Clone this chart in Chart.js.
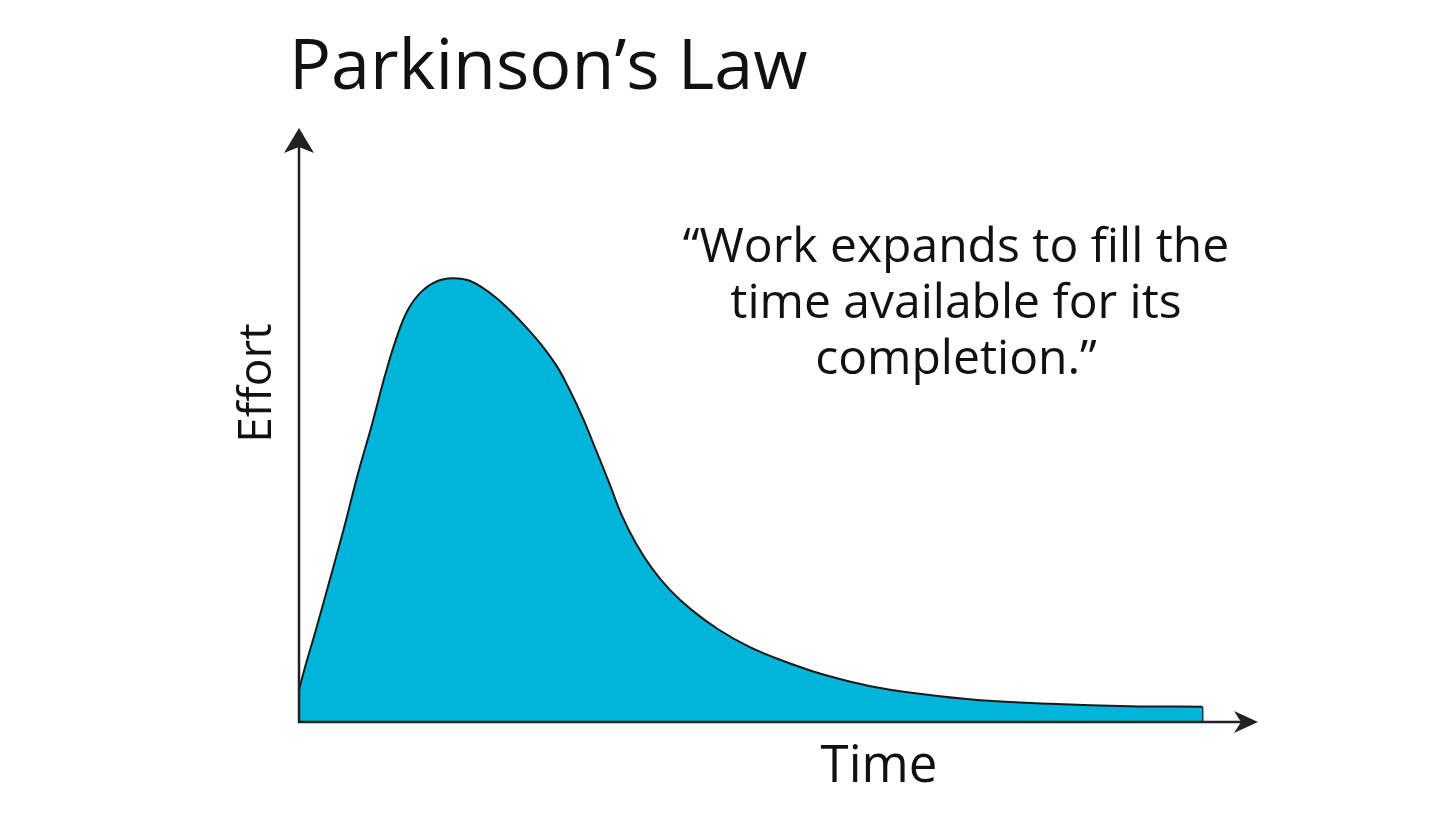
<!DOCTYPE html>
<html>
<head>
<meta charset="utf-8">
<title>Parkinson's Law</title>
<script src="https://cdn.jsdelivr.net/npm/chart.js@4"></script>
<style>
    html, body { margin: 0; padding: 0; background: #ffffff; }
    #wrap { width: 1456px; height: 819px; }
</style>
</head>
<body>
<div id="wrap"><canvas id="parkinsonChart"></canvas></div>
<script>
// Dados (tempo x esforço, unidades arbitrárias 0-100)
const timeValues = [0, 0.7, 1.7, 3.1, 4.7, 6.2, 7.7, 9.1, 10.3, 11.5, 13.0, 14.6, 16.2, 17.8, 19.3,
    20.9, 22.5, 24.1, 25.7, 27.3, 28.6, 30.0, 31.4, 32.8, 34.1, 35.6, 37.3, 39.2, 41.5, 44.3,
    47.5, 51.2, 55.6, 60.4, 65.6, 72.0, 79.4, 87.8, 95.5];
const effortValues = [5.5, 9.7, 15.2, 23.3, 32.7, 42.1, 50.6, 59.1, 65.4, 70.2, 73.4, 75.1, 75.6, 75.3, 74.1,
    72.2, 69.8, 67.1, 64.1, 60.5, 56.6, 51.8, 46.3, 40.7, 35.3, 30.5, 26.2, 22.5, 19.1, 15.8,
    12.9, 10.4, 8.0, 6.1, 4.8, 3.7, 3.1, 2.7, 2.6];

const chartTitle = 'Parkinson’s Law';
const quoteLines = ['“Work expands to fill the', 'time available for its', 'completion.”'];
const xAxisLabel = 'Time';
const yAxisLabel = 'Effort';

const colors = {
    fill: '#00b5d9',
    line: '#1a1a1a',
    axis: '#222222',
    text: '#111111'
};
const fontFamily = '"Open Sans", "Noto Sans", sans-serif';

// Pontos da curva
const curvePoints = timeValues.map((t, i) => ({ x: t, y: effortValues[i] }));
// Borda vertical no fim da área preenchida
const lastIdx = timeValues.length - 1;
const edgePoints = [
    { x: timeValues[lastIdx], y: 0 },
    { x: timeValues[lastIdx], y: effortValues[lastIdx] }
];

// Plugin para eixos com setas e textos
const decorPlugin = {
    id: 'decor',
    afterDatasetsDraw(chart) {
        const ctx = chart.ctx;
        const area = chart.chartArea;
        const x0 = chart.scales.x.getPixelForValue(0);
        const y0 = chart.scales.y.getPixelForValue(0);

        ctx.save();
        ctx.strokeStyle = colors.axis;
        ctx.fillStyle = colors.axis;
        ctx.lineWidth = 2.5;

        // eixo y
        ctx.beginPath();
        ctx.moveTo(x0, y0 + 1);
        ctx.lineTo(x0, area.top + 10);
        ctx.stroke();
        // eixo x
        ctx.beginPath();
        ctx.moveTo(x0 - 1, y0);
        ctx.lineTo(area.right + 2, y0);
        ctx.stroke();

        // seta para cima
        const tipY = area.top - 7;
        ctx.beginPath();
        ctx.moveTo(x0, tipY);
        ctx.lineTo(x0 + 15, tipY + 25);
        ctx.lineTo(x0, tipY + 19);
        ctx.lineTo(x0 - 15, tipY + 25);
        ctx.closePath();
        ctx.fill();

        // seta para a direita
        const tipX = area.right + 13;
        ctx.beginPath();
        ctx.moveTo(tipX, y0);
        ctx.lineTo(tipX - 24, y0 - 11);
        ctx.lineTo(tipX - 17, y0);
        ctx.lineTo(tipX - 24, y0 + 11);
        ctx.closePath();
        ctx.fill();

        // textos
        ctx.fillStyle = colors.text;
        ctx.textBaseline = 'alphabetic';

        ctx.font = '400 70px ' + fontFamily;
        ctx.textAlign = 'left';
        ctx.fillText(chartTitle, 289, 89);

        ctx.font = '400 48px ' + fontFamily;
        ctx.textAlign = 'center';
        quoteLines.forEach((line, i) => {
            ctx.fillText(line, 956, 262 + i * 56);
        });

        ctx.font = '400 51px ' + fontFamily;
        ctx.fillText(xAxisLabel, 879, 782);

        ctx.font = '400 46px ' + fontFamily;
        ctx.translate(271, 383);
        ctx.rotate(-Math.PI / 2);
        ctx.fillText(yAxisLabel, 0, 0);
        ctx.restore();
    }
};

new Chart(document.getElementById('parkinsonChart'), {
    type: 'line',
    data: {
        datasets: [{
            data: curvePoints,
            borderColor: colors.line,
            borderWidth: 2,
            backgroundColor: colors.fill,
            fill: 'origin',
            tension: 0.4,
            pointRadius: 0
        }, {
            data: edgePoints,
            borderColor: colors.line,
            borderWidth: 2,
            fill: false,
            tension: 0,
            pointRadius: 0
        }]
    },
    plugins: [decorPlugin],
    options: {
        responsive: true,
        maintainAspectRatio: false,
        animation: false,
        layout: {
            padding: { left: 299, right: 211, top: 135, bottom: 97 }
        },
        plugins: {
            legend: { display: false },
            tooltip: { enabled: false },
            title: { display: false }
        },
        scales: {
            x: { type: 'linear', min: 0, max: 100, display: false },
            y: { type: 'linear', min: 0, max: 100, display: false }
        }
    }
});
</script>
</body>
</html>
